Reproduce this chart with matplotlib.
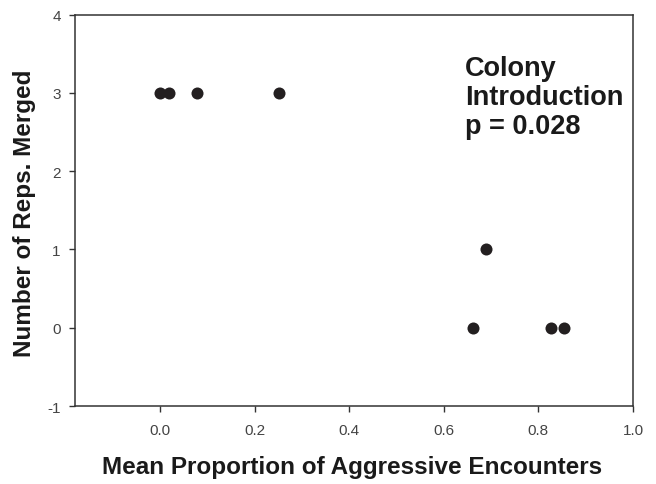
import matplotlib
matplotlib.use("Agg")
import matplotlib.pyplot as plt

# mean proportion of aggressive encounters vs. number of replicates merged
aggression = [0.0, 0.018, 0.079, 0.252, 0.662, 0.689, 0.827, 0.855]
reps_merged = [3, 3, 3, 3, 0, 1, 0, 0]

x_ticks = [0.0, 0.2, 0.4, 0.6, 0.8, 1.0]
y_ticks = [-1, 0, 1, 2, 3, 4]

plt.rcParams['font.family'] = ['Liberation Sans', 'DejaVu Sans']

fig = plt.figure(figsize=(6.56, 4.85), dpi=100)
ax = fig.add_axes([0.1143, 0.1608, 0.8506, 0.8068])

ax.scatter(aggression, reps_merged, s=75, color='#231f20', zorder=3, linewidths=0)

ax.set_xlim(-0.18, 1.0)
ax.set_ylim(-1, 4)
ax.set_xticks(x_ticks)
ax.set_xticklabels(['%.1f' % t for t in x_ticks])
ax.set_yticks(y_ticks)
ax.set_yticklabels([str(t) for t in y_ticks])

for sp in ax.spines.values():
    sp.set_color('#333333')
    sp.set_linewidth(1.1)

ax.tick_params(axis='x', direction='out', length=4.3, width=1.0, color='#333333',
               labelsize=11, labelcolor='#444444', pad=8)
ax.tick_params(axis='y', direction='out', length=4.3, width=1.0, color='#333333',
               labelsize=11, labelcolor='#444444', pad=6)

ax.set_xlabel('Mean Proportion of Aggressive Encounters', fontsize=17.5,
              fontweight='bold', color='#1a1a1a')
ax.xaxis.set_label_coords(0.496, -0.125)
ax.set_ylabel('Number of Reps. Merged', fontsize=17.5, fontweight='bold', color='#1a1a1a')
ax.yaxis.set_label_coords(-0.069, 0.495)

ax.text(0.699, 0.897, 'Colony\nIntroduction\np = 0.028', transform=ax.transAxes,
        fontsize=19.5, fontweight='bold', color='#1a1a1a', va='top', ha='left',
        linespacing=1.15)

fig.savefig('out.png', dpi=100)
